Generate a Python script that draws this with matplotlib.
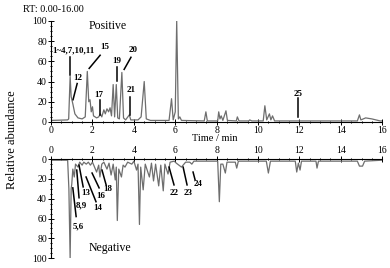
import matplotlib
matplotlib.use("Agg")
from matplotlib import pyplot as plt
from matplotlib.ticker import MultipleLocator

plt.rcParams["font.family"] = ["Liberation Serif", "DejaVu Serif"]

# positive ion trace: retention time (min) / relative abundance
pos_t = [0.0, 0.8, 0.85, 0.92, 0.97, 1.05, 1.15, 1.3, 1.5, 1.65, 1.75, 1.82, 1.88, 1.94,
         2.0, 2.05, 2.2, 2.3, 2.38, 2.45, 2.55, 2.62, 2.7, 2.78, 2.85, 2.92, 3.0, 3.07,
         3.15, 3.22, 3.3, 3.42, 3.5, 3.6, 3.78, 3.85, 4.2, 4.35, 4.5, 4.6, 4.8, 5.7,
         5.82, 5.9, 6.0, 6.07, 6.15, 6.22, 6.3, 7.4, 7.48, 7.55, 8.05, 8.1, 8.16, 8.22,
         8.3, 8.45, 8.52, 8.95, 9.0, 9.08, 9.55, 9.6, 9.7, 10.25, 10.33, 10.42, 10.55,
         10.62, 10.7, 10.8, 11.5, 14.8, 14.9, 14.97, 15.2, 15.5, 15.9, 16.0]
pos_y = [1.5, 2, 3, 45, 25, 18, 8, 4, 3, 5, 50, 20, 22, 10,
         15, 6, 4, 5, 8, 5, 12, 8, 13, 10, 14, 6, 37, 5,
         37, 4, 3, 49, 4, 2, 7, 2, 2, 5, 40, 3, 1.5, 1.5,
         23, 2, 10, 100, 3, 5, 1.5, 1, 10, 1, 1, 10, 3, 6,
         1.5, 11, 1.5, 1, 5, 1, 1, 2, 1, 1, 16, 2, 8,
         2, 6, 1, 1, 1, 7, 2, 4, 3, 1, 1]

# negative ion trace
neg_t = [0.0, 0.8, 0.86, 0.92, 0.97, 1.0, 1.05, 1.12, 1.18, 1.3, 1.38, 1.5, 1.58, 1.7,
         1.8, 1.9, 2.0, 2.2, 2.3, 2.36, 2.45, 2.55, 2.7, 2.8, 2.9, 3.0, 3.1, 3.15, 3.2,
         3.27, 3.4, 3.48, 3.57, 3.7, 3.9, 4.0, 4.13, 4.2, 4.27, 4.33, 4.45, 4.55, 4.75,
         4.85, 4.95, 5.05, 5.2, 5.3, 5.42, 5.5, 5.65, 5.75, 5.95, 6.05, 6.3, 6.5, 6.7,
         6.8, 6.9, 7.2, 7.5, 8.05, 8.13, 8.2, 8.3, 8.42, 8.5, 8.9, 8.97, 9.05, 10.4,
         10.5, 10.6, 11.8, 11.87, 11.95, 12.03, 12.1, 12.8, 12.85, 12.92, 14.8, 14.9,
         15.05, 15.15, 16.0]
neg_y = [1, 1, 30, 100, 30, 25, 10, 18, 5, 8, 3, 6, 3, 5,
         3, 6, 3, 13, 6, 18, 5, 3, 10, 4, 16, 5, 21, 8, 62,
         10, 18, 6, 8, 3, 5, 2, 11, 5, 66, 8, 31, 5, 18,
         4, 22, 5, 27, 6, 32, 5, 15, 3, 2, 4, 8, 3, 3,
         5, 2, 2, 2, 2, 43, 5, 5, 14, 3, 3, 9, 2, 2,
         14, 2, 2, 13, 4, 11, 2, 2, 9, 2, 2, 7,
         7, 2, 1]

# peak labels: text, text position, leader line (t0, y0, t1, y1)
pos_labels = ["1~4,7,10,11", "12", "15", "17", "19", "20", "21", "25"]
pos_text_xy = [(1.06, 71), (1.3, 43), (2.6, 74), (2.32, 27), (3.19, 60), (3.96, 71), (3.86, 32), (11.93, 28)]
pos_lines = [(0.92, 64, 0.92, 46), (1.26, 38, 1.06, 22), (2.37, 66, 1.84, 53), (2.37, 22, 2.37, 7),
             (3.19, 54, 3.19, 41), (3.86, 64, 3.53, 52), (3.82, 25, 3.82, 7), (11.93, 24, 11.93, 5)]

neg_labels = ["5,6", "8,9", "13", "14", "16", "18", "22", "23", "24"]
neg_text_xy = [(1.3, 68), (1.45, 47), (1.68, 34), (2.26, 49), (2.4, 37), (2.72, 30), (5.95, 34), (6.6, 34), (7.1, 25)]
neg_lines = [(1.05, 29, 1.21, 58), (1.24, 11, 1.35, 39), (1.35, 6, 1.55, 28), (1.69, 18, 2.17, 43),
             (1.98, 14, 2.32, 29), (2.46, 11, 2.66, 26), (5.7, 8, 5.94, 26), (6.38, 8, 6.57, 26),
             (6.86, 13, 6.96, 21)]

trace_color = "#6e6e6e"

fig = plt.figure(figsize=(3.9, 2.68), dpi=100)

ax1 = fig.add_axes([0.131, 0.545, 0.849, 0.377])
ax2 = fig.add_axes([0.131, 0.037, 0.849, 0.369])

ax1.plot(pos_t, pos_y, color=trace_color, lw=0.9)
ax2.plot(neg_t, neg_y, color=trace_color, lw=0.9)

for ax in (ax1, ax2):
    ax.set_xlim(0, 16)
    ax.set_ylim(0, 100)
    ax.xaxis.set_major_locator(MultipleLocator(2))
    ax.xaxis.set_minor_locator(MultipleLocator(0.5))
    ax.yaxis.set_major_locator(MultipleLocator(20))
    ax.yaxis.set_minor_locator(MultipleLocator(5))
    ax.tick_params(which="both", direction="inout", labelsize=7, width=0.7, pad=1)
    ax.tick_params(which="major", length=4)
    ax.tick_params(which="minor", length=2)
    ax.spines["right"].set_visible(False)
    for s in ("left", "bottom", "top"):
        ax.spines[s].set_linewidth(0.8)

ax1.spines["top"].set_visible(False)
ax2.spines["bottom"].set_visible(False)
ax2.invert_yaxis()
ax2.xaxis.tick_top()

for lab, (tx, ty), (a, b, c, d) in zip(pos_labels, pos_text_xy, pos_lines):
    ax1.plot([a, c], [b, d], color="black", lw=1.1)
    ax1.text(tx, ty, lab, fontsize=6.5, fontweight="bold", ha="center", va="center")

for lab, (tx, ty), (a, b, c, d) in zip(neg_labels, neg_text_xy, neg_lines):
    ax2.plot([a, c], [b, d], color="black", lw=1.1)
    ax2.text(tx, ty, lab, fontsize=6.5, fontweight="bold", ha="center", va="center")

ax1.text(2.75, 95, "Positive", fontsize=8.5, ha="center", va="center")
ax2.text(2.85, 90, "Negative", fontsize=8.5, ha="center", va="center")

fig.text(0.059, 0.963, "RT: 0.00-16.00", fontsize=7.3, ha="left", va="center")
fig.text(0.551, 0.483, "Time / min", fontsize=7.5, ha="center", va="center")
fig.text(0.031, 0.478, "Relative abundance", fontsize=9, rotation=90, ha="center", va="center")

fig.savefig("out.png", dpi=100)
